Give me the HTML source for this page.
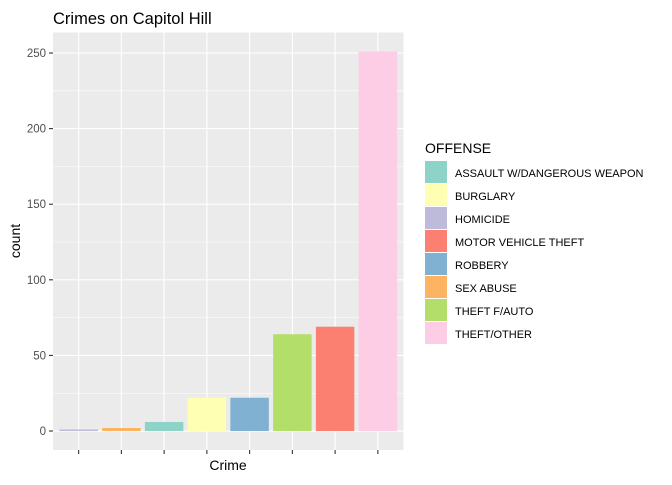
<!DOCTYPE html>
<html><head><meta charset="utf-8"><style>
body{margin:0;background:#fff;font-family:"Liberation Sans",Arial,sans-serif;}
svg text{font-family:"Liberation Sans",Arial,sans-serif;}
</style></head><body>
<svg id="chart" width="672" height="480" xmlns="http://www.w3.org/2000/svg">
<rect width="672" height="480" fill="#fff"/>
<text x="53" y="24" font-size="16.5" fill="#000">Crimes on Capitol Hill</text>
<rect x="53" y="32.5" width="350.5" height="417.5" fill="#EBEBEB"/>
<g id="grid"></g><g id="bars"></g><g id="axes"></g>
<text x="228" y="470" font-size="14" text-anchor="middle" fill="#000">Crime</text>
<text transform="translate(20,241) rotate(-90)" font-size="14" text-anchor="middle" fill="#000">count</text>
<g id="legend">
<text x="425" y="153" font-size="14" fill="#000">OFFENSE</text>
</g>
</svg>
<script>
const categories=["HOMICIDE","SEX ABUSE","ASSAULT W/DANGEROUS WEAPON","BURGLARY","ROBBERY","THEFT F/AUTO","MOTOR VEHICLE THEFT","THEFT/OTHER"];
const counts=[1,2,6,22,22,64,69,251];
const yTicks=[0,50,100,150,200,250];
const legendLabels=["ASSAULT W/DANGEROUS WEAPON","BURGLARY","HOMICIDE","MOTOR VEHICLE THEFT","ROBBERY","SEX ABUSE","THEFT F/AUTO","THEFT/OTHER"];
const legendColors=["#8DD3C7","#FFFFB3","#BEBADA","#FB8072","#80B1D3","#FDB462","#B3DE69","#FCCDE5"];
const NS="http://www.w3.org/2000/svg";
const px0=53,px1=403.5,py0=32.5,py1=450;
const maxV=Math.max(...counts),yMin=-0.05*maxV,yMax=1.05*maxV;
const y=v=>py1-(v-yMin)/(yMax-yMin)*(py1-py0);
const n=categories.length,step=(px1-px0)/(n-1+1.2);
const x=i=>px0+step*(0.6+i);
function mk(t,a,p){const e=document.createElementNS(NS,t);for(const k in a)e.setAttribute(k,a[k]);p.appendChild(e);return e;}
const grid=document.getElementById('grid'),bars=document.getElementById('bars'),axes=document.getElementById('axes'),leg=document.getElementById('legend');
for(let i=0;i<yTicks.length-1;i++){const m=(yTicks[i]+yTicks[i+1])/2;const l=mk('line',{x1:px0,x2:px1,y1:y(m),y2:y(m),stroke:'#fff','stroke-width':0.55},grid);

}
yTicks.forEach(v=>{const l=mk('line',{x1:px0,x2:px1,y1:y(v),y2:y(v),stroke:'#fff','stroke-width':1.1},grid);


const t=mk('line',{x1:px0-4,x2:px0,y1:y(v),y2:y(v),stroke:'#333','stroke-width':1.1},axes);


const tx=mk('text',{x:px0-7,y:y(v)+4,'font-size':11.5,fill:'#4D4D4D','text-anchor':'end'},axes);tx.textContent=v;

});
categories.forEach((c,i)=>{const l=mk('line',{x1:x(i),x2:x(i),y1:py0,y2:py1,stroke:'#fff','stroke-width':1.1},grid);


const t=mk('line',{x1:x(i),x2:x(i),y1:py1,y2:py1+4,stroke:'#333','stroke-width':1.1},axes);


const w=step*0.9;const col=legendColors[legendLabels.indexOf(c)];
const b=mk('rect',{x:x(i)-w/2,y:y(counts[i]),width:w,height:y(0)-y(counts[i]),fill:col},bars);

});
legendLabels.forEach((c,i)=>{const yy=161+i*23;
const r=mk('rect',{x:425,y:yy,width:22,height:22,fill:legendColors[i]},leg);


const t=mk('text',{x:455,y:yy+16,'font-size':11,fill:'#000'},leg);t.textContent=c;

});
</script>
</body></html>
